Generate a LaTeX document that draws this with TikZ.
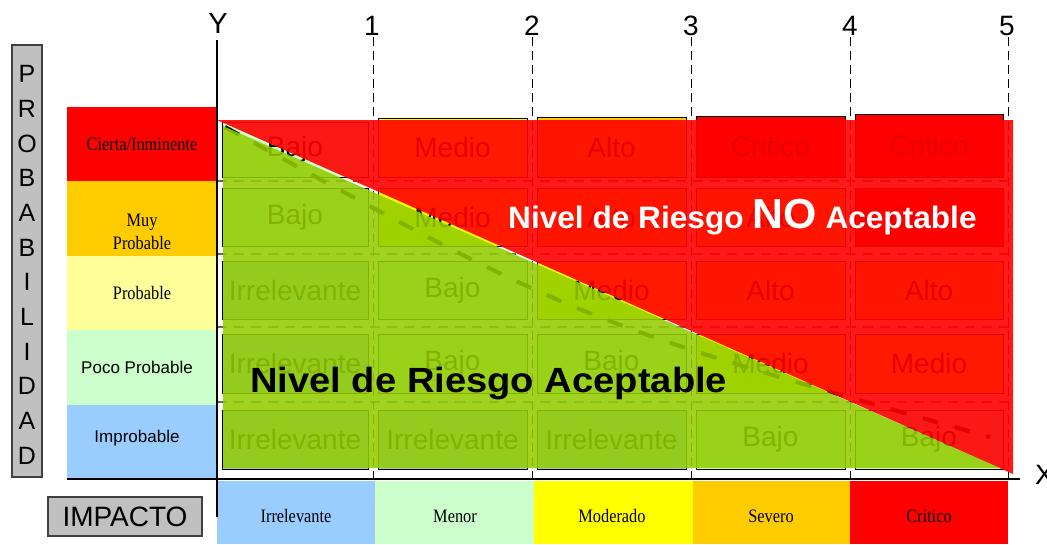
\documentclass[tikz,border=0pt]{standalone}
\usepackage{fontspec}
\setmainfont{Liberation Sans}
\newfontfamily\tms{Liberation Serif}
\usepackage{graphicx}

\definecolor{Irrelevante}{HTML}{99CCFF}
\definecolor{Bajo}{HTML}{CCFFCC}
\definecolor{Medio}{HTML}{FFFF00}
\definecolor{Alto}{HTML}{FFCC00}
\definecolor{Critico}{HTML}{FF0000}
\definecolor{probY}{HTML}{FFFF99}
\definecolor{ovgreen}{RGB}{147,204,0}
\definecolor{boxgray}{HTML}{C0C0C0}

\newcommand\fsz[1]{\fontsize{#1}{#1}\selectfont}
\newcommand\narrowtxt[1]{\scalebox{0.86}[1]{#1}}
\newcommand\riskcell[6]{%
  \draw[cellbox, fill=#6] (#2,#3) rectangle (#4,#5);
  \node[celltxt] (#1) at ({(#2+#4)/2},{(#3+#5)/2}) {#6};}

\tikzset{
  cellbox/.style={draw=black, line width=0.8pt},
  celltxt/.style={font=\fsz{28}, text=black, inner sep=0pt},
  rowlab/.style={font=\tms\fontsize{19}{23}\selectfont, inner sep=0pt, align=center},
  sanslab/.style={font=\fsz{17}, inner sep=0pt},
  vdash/.style={black, line width=1pt, dash pattern=on 9pt off 5pt},
  rowsep/.style={black!60, line width=2.5pt, dash pattern=on 10pt off 7pt},
  diagdash/.style={black, line width=4pt, dash pattern=on 16pt off 17pt},
  axisline/.style={black, line width=1.5pt},
  axislab/.style={font=\fsz{28}, inner sep=0pt, anchor=base},
  graybox/.style={fill=boxgray, draw=black!75, line width=1.5pt},
  redov/.style={fill=red, fill opacity=0.9},
  greenov/.style={fill=ovgreen, fill opacity=0.88},
}

\begin{document}
\begin{tikzpicture}[x=1pt,y=-1pt]
\useasboundingbox[fill=white] (0,0) rectangle (1047,544);

% probability labels column
\fill[Critico] (67,107) rectangle (217,181);
\fill[Alto] (67,181) rectangle (217,256);
\fill[probY] (67,256) rectangle (217,330);
\fill[Bajo] (67,330) rectangle (217,405);
\fill[Irrelevante] (67,405) rectangle (217,479);
\node[rowlab] (p1) at (142,144) {\narrowtxt{Cierta/Inminente}};
\node[rowlab] (p2) at (142,232) {\narrowtxt{Muy}\\\narrowtxt{Probable}};
\node[rowlab] (p3) at (142,293) {\narrowtxt{Probable}};
\node[sanslab] (p4) at (137,367) {Poco Probable};
\node[sanslab] (p5) at (137,438) {Improbable};

% impact row
\fill[Irrelevante] (217,481) rectangle (375,544);
\fill[Bajo] (375,481) rectangle (534,544);
\fill[Medio] (534,481) rectangle (693,544);
\fill[Alto] (693,481) rectangle (850,544);
\fill[Critico] (850,481) rectangle (1008,544);
\node[rowlab] (i1) at (296,516) {\narrowtxt{Irrelevante}};
\node[rowlab] (i2) at (455,516) {\narrowtxt{Menor}};
\node[rowlab] (i3) at (612,516) {\narrowtxt{Moderado}};
\node[rowlab] (i4) at (771,516) {\narrowtxt{Severo}};
\node[rowlab] (i5) at (929,516) {\narrowtxt{Critico}};

% risk cells
\riskcell{c11}{222}{122}{368}{177}{Bajo}
\riskcell{c12}{378}{118}{527}{177}{Medio}
\riskcell{c13}{537}{117}{686}{177}{Alto}
\riskcell{c14}{696}{116}{845}{177}{Critico}
\riskcell{c15}{855}{114}{1003}{177}{Critico}
\foreach \r/\yt/\yb/\la/\lb/\lc/\ld/\le in {
  2/188/246/Bajo/Medio/Alto/Alto/Critico,
  3/261/319/Irrelevante/Bajo/Medio/Alto/Alto,
  4/334/393/Irrelevante/Bajo/Bajo/Medio/Medio,
  5/410/469/Irrelevante/Irrelevante/Irrelevante/Bajo/Bajo}{
  \riskcell{c\r1}{222}{\yt}{368}{\yb}{\la}
  \riskcell{c\r2}{378}{\yt}{527}{\yb}{\lb}
  \riskcell{c\r3}{537}{\yt}{686}{\yb}{\lc}
  \riskcell{c\r4}{696}{\yt}{845}{\yb}{\ld}
  \riskcell{c\r5}{855}{\yt}{1003}{\yb}{\le}
}

% grid lines
\foreach \y in {181,254,327,402}{\draw[rowsep] (217,\y) -- (1010,\y);}
\foreach \x in {373,532,691,850,1008}{\draw[vdash] (\x,37) -- (\x,479);}
\draw[diagdash] (225,127) .. controls (580,322) .. (990,437);

% overlays
\fill[redov] (217,120) -- (1013,120) -- (1013,474) -- cycle;
\fill[greenov] (223,126) -- (223,468) -- (1000,468) -- cycle;

% axes
\draw[axisline] (217,40) -- (217,517);
\draw[axisline] (67,479) -- (1020,479);
\node[axislab, font=\fsz{29}] (ylab) at (218,33) {Y};
\node[axislab] (n1) at (372,35) {1};
\node[axislab] (n2) at (532,35) {2};
\node[axislab] (n3) at (691,35) {3};
\node[axislab] (n4) at (850,35) {4};
\node[axislab] (n5) at (1007,35) {5};
\node[axislab, anchor=base west] (xlab) at (1035,484) {X};

% big texts
\node[anchor=base west, inner sep=0pt, text=white, font=\bfseries] (noacc) at (508,228)
  {\scalebox{1.02}[1]{\fsz{31}Nivel de Riesgo {\fsz{42}NO} Aceptable}};
\node[anchor=base west, inner sep=0pt, text=black, font=\bfseries\fsz{35}] (acc) at (250,392)
  {\scalebox{1.09}[1]{Nivel de Riesgo Aceptable}};

% PROBABILIDAD box
\draw[graybox] (12,45) rectangle (42,477);
\foreach \ch [count=\i from 0] in {P,R,O,B,A,B,I,L,I,D,A,D}{
  \node[font=\fsz{25}, inner sep=0pt] (pl\i) at (27,{74+34.7*\i}) {\ch};
}

% IMPACTO box
\draw[graybox] (48,497) rectangle (202,536);
\node[font=\fsz{28}, inner sep=0pt] (imp) at (125,517) {IMPACTO};
\end{tikzpicture}
\end{document}
